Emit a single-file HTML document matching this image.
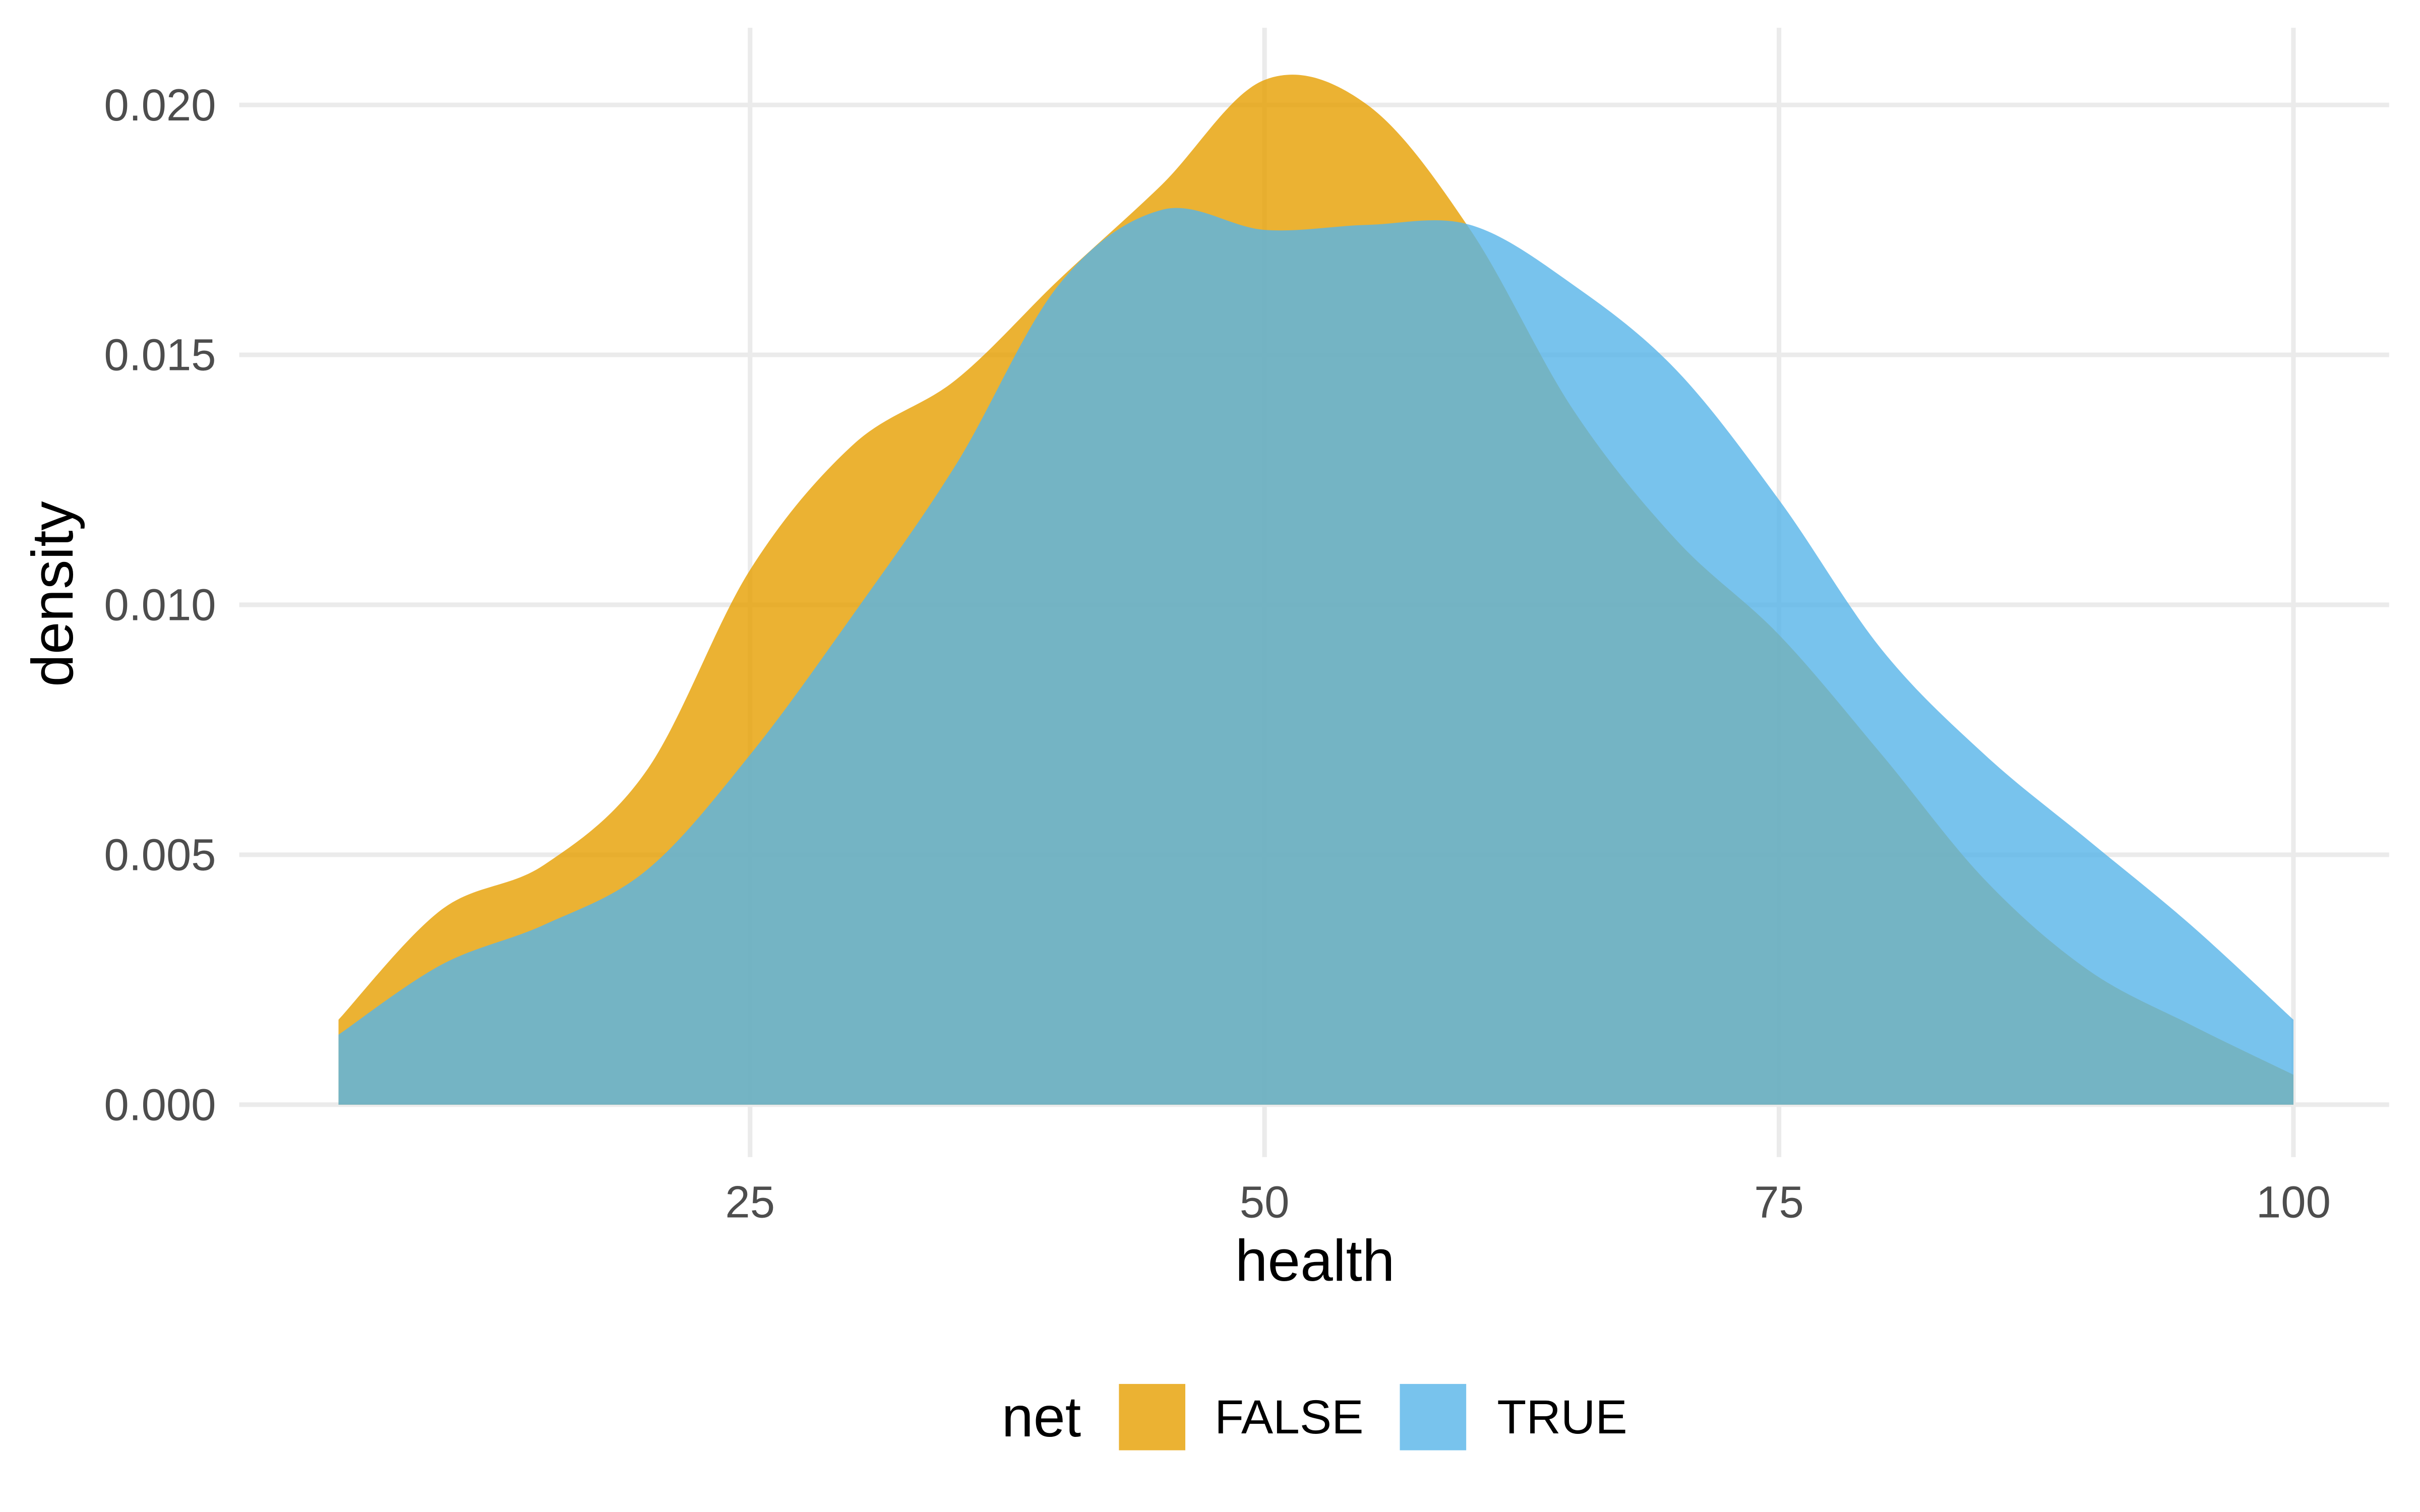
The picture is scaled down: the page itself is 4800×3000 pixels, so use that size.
<!DOCTYPE html>
<html><head><meta charset="utf-8"><style>html,body{margin:0;padding:0;background:#fff}svg{display:block}text{font-family:"Liberation Sans",sans-serif}</style></head>
<body>
<svg id="chart" width="4800" height="3000" viewBox="0 0 1568 980" xmlns="http://www.w3.org/2000/svg">
<g id="grid"></g>
<g id="areas"></g>
<g id="axes"></g>
<text x="852" y="830" font-size="38" text-anchor="middle" fill="#000">health</text>
<text transform="translate(47,385) rotate(-90)" font-size="38" text-anchor="middle" fill="#000">density</text>
<g>
<text x="649" y="931" font-size="37" fill="#000">net</text>
<rect x="725" y="897" width="43" height="43" fill="#E69F00" fill-opacity="0.8"/>
<text x="787" y="929" font-size="31" fill="#000">FALSE</text>
<rect x="907" y="897" width="43" height="43" fill="#56B4E9" fill-opacity="0.8"/>
<text x="970" y="929" font-size="31" fill="#000">TRUE</text>
</g>
</svg>
<script>
const xs = [5,10,15,20,25,30,35,40,45,50,55,60,65,70,75,80,85,90,95,100];
const densFalse = [0.0017,0.0039,0.0048,0.0067,0.0107,0.0132,0.0145,0.0165,0.0184,0.0205,0.0200,0.0175,0.0139,0.0113,0.0094,0.0070,0.0045,0.0027,0.0016,0.0006];
const densTrue = [0.0014,0.0028,0.0036,0.0047,0.0070,0.0098,0.0128,0.0164,0.0179,0.0175,0.0176,0.0176,0.0164,0.0147,0.0121,0.0091,0.0070,0.0053,0.0036,0.0017];
const xTicks = [25,50,75,100];
const yTicks = [0,0.005,0.010,0.015,0.020];
const yTickLabels = ["0.000","0.005","0.010","0.015","0.020"];

const NS="http://www.w3.org/2000/svg";
const sx = v => 486 + (v-25)*(1486-486)/75;
const sy = v => 716 - v*(716-68)/0.02;
function mk(tag, attrs, parent){const e=document.createElementNS(NS,tag);for(const k in attrs)e.setAttribute(k,attrs[k]);parent.appendChild(e);return e;}
const grid=document.getElementById('grid'), areas=document.getElementById('areas'), axes=document.getElementById('axes');
yTicks.forEach((t,i)=>{
  const l=mk('line',{x1:155,x2:1548,y1:sy(t),y2:sy(t),stroke:'#EBEBEB','stroke-width':3},grid);
  
  
  const tx=mk('text',{x:140,y:sy(t)+10,'font-size':29,'text-anchor':'end',fill:'#4D4D4D'},axes);
  tx.textContent=yTickLabels[i];
  
  
});
xTicks.forEach(t=>{
  const l=mk('line',{x1:sx(t),x2:sx(t),y1:18,y2:750,stroke:'#EBEBEB','stroke-width':3},grid);
  
  
  const tx=mk('text',{x:sx(t),y:789,'font-size':29,'text-anchor':'middle',fill:'#4D4D4D'},axes);
  tx.textContent=String(t);
  
  
});
function areaPath(ys){
  const p=xs.map((x,i)=>[sx(x),sy(ys[i])]);
  let d=`M${p[0][0]},${sy(0)} L${p[0][0]},${p[0][1]}`;
  for(let i=0;i<p.length-1;i++){
    const p0=p[Math.max(0,i-1)],p1=p[i],p2=p[i+1],p3=p[Math.min(p.length-1,i+2)];
    const c1=[p1[0]+(p2[0]-p0[0])/6,p1[1]+(p2[1]-p0[1])/6];
    const c2=[p2[0]-(p3[0]-p1[0])/6,p2[1]-(p3[1]-p1[1])/6];
    d+=` C${c1[0]},${c1[1]} ${c2[0]},${c2[1]} ${p2[0]},${p2[1]}`;
  }
  d+=` L${p[p.length-1][0]},${sy(0)} Z`;
  return d;
}
const a1=mk('path',{d:areaPath(densFalse),fill:'#E69F00','fill-opacity':0.8},areas);


const a2=mk('path',{d:areaPath(densTrue),fill:'#56B4E9','fill-opacity':0.8},areas);


</script>
</body></html>
